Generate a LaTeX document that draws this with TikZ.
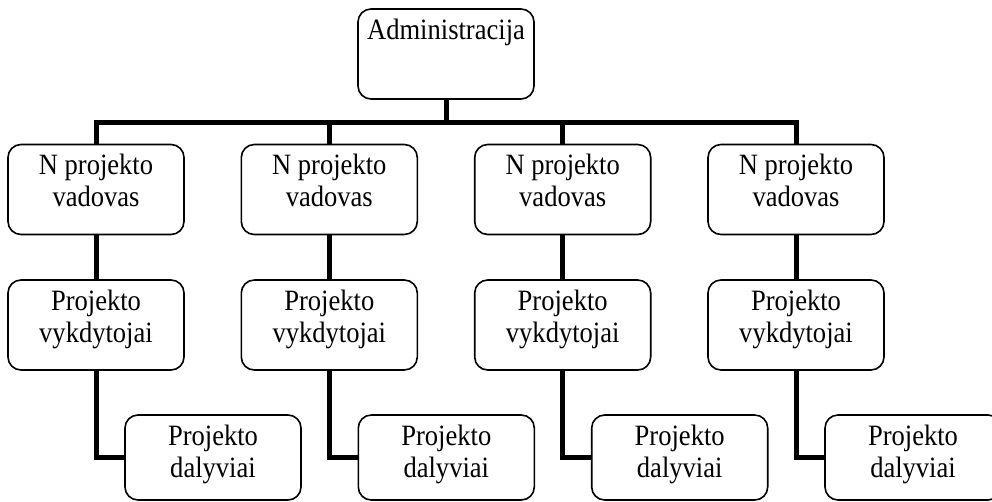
\documentclass[tikz,border=0pt]{standalone}
\usepackage{fontspec}
\setmainfont{Liberation Serif}[FakeStretch=0.9]
\usetikzlibrary{backgrounds}
\begin{document}
\begin{tikzpicture}[x=1pt,y=-1pt,
  box/.style={draw=black, line width=1.6pt, rounded corners=13pt, fill=white,
    minimum width=176pt, inner sep=0pt, align=center,
    font=\fontsize{29.5}{32}\selectfont},
  boxS/.style={box, minimum height=90pt, text height=30pt, text depth=60pt},
  boxA/.style={box, minimum height=90pt, text height=62pt, text depth=28pt},
  boxB/.style={box, minimum height=85pt, text height=62pt, text depth=23pt},
  conn/.style={line width=5pt, line join=miter}]
\useasboundingbox (0,0) rectangle (992,501);
\clip (0,0) rectangle (992,501);
\node[boxS] (adm) at (446,54) {Administracija};
\coordinate (bar) at (446,122);
\foreach \i/\x in {1/96,2/329.3,3/562.7,4/796}{
  \node[boxA] (v\i) at (\x,189.5) {N projekto\\vadovas};
  \node[boxA] (e\i) at (\x,325) {Projekto\\vykdytojai};
  \node[boxB] (d\i) at (\x+117,457.5) {Projekto\\dalyviai};
}
\begin{scope}[on background layer]
\draw[conn] (v1.north) -- (v1.north |- bar) -- (v4.north |- bar) -- (v4.north);
\draw[conn] (adm.south) -- (adm.south |- bar);
\draw[conn] (v2.north) -- (v2.north |- bar);
\draw[conn] (v3.north) -- (v3.north |- bar);
\foreach \i in {1,2,3,4}{
  \draw[conn] (v\i.south) -- (e\i.north);
  \draw[conn] (e\i.south) -- (e\i.south |- d\i.west) -- (d\i.west);
}
\end{scope}
\end{tikzpicture}
\end{document}
